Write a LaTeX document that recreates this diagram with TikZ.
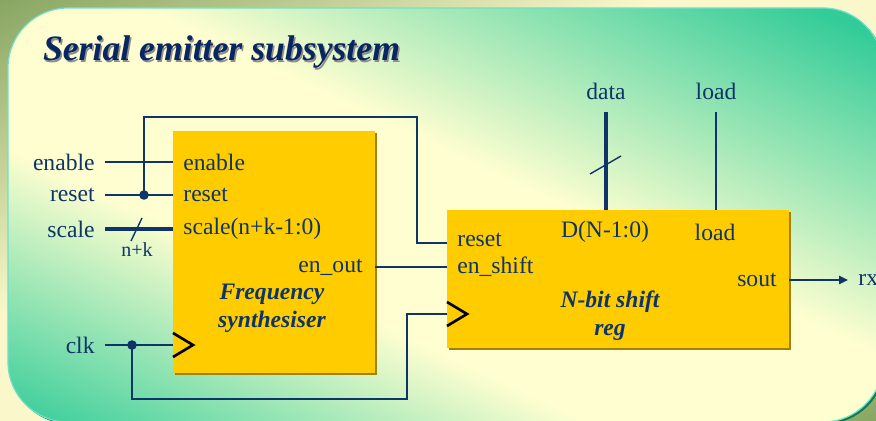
\documentclass[tikz,border=0pt]{standalone}
\usepackage{fontspec}
\setmainfont{Liberation Serif}
\usetikzlibrary{positioning, calc, arrows.meta, shadows}

\definecolor{olive}{RGB}{136,166,98}
\definecolor{paper}{RGB}{250,248,202}
\definecolor{panelyellow}{RGB}{254,254,208}
\definecolor{panelgreen}{RGB}{51,204,153}
\definecolor{panelrim}{RGB}{20,120,85}
\definecolor{paneledge}{RGB}{110,225,200}
\definecolor{gold}{RGB}{255,204,0}
\definecolor{goldedge}{RGB}{160,130,10}
\definecolor{navy}{RGB}{14,52,104}
\definecolor{titlenavy}{RGB}{8,38,98}

% diagonal fills, laid across a rotated box (25bp..75bp spans the box)
\pgfdeclareverticalshading{backdropfill}{100bp}{color(0bp)=(olive); color(25bp)=(olive);
  color(43.75bp)=(paper); color(56.25bp)=(paper); color(75bp)=(olive); color(100bp)=(olive)}
\pgfdeclareverticalshading{panelfill}{100bp}{color(0bp)=(panelgreen); color(25bp)=(panelgreen);
  color(41.5bp)=(panelyellow); color(54bp)=(panelyellow); color(73bp)=(panelgreen); color(100bp)=(panelgreen)}

\newcommand{\sigfont}{\fontsize{11.8pt}{14pt}\selectfont}
\newcommand{\buswidthfont}{\fontsize{10pt}{12pt}\selectfont}

\tikzset{
  wire/.style={draw=navy, line width=1.4pt},
  bus/.style={draw=navy, line width=1.9pt},
  slash/.style={draw=navy, line width=0.7pt},
  clockmark/.style={draw=black, line width=1.3pt, line join=miter},
  block/.style={fill=gold, draw=none, inner sep=0pt,
    drop shadow={shadow xshift=1pt, shadow yshift=-1pt, fill=goldedge, opacity=1}},
  sig/.style={text=navy, font=\sigfont, inner xsep=5pt, inner ysep=0pt},
  port/.style={text=navy, font=\sigfont, inner sep=0pt},
  toplabel/.style={text=navy, font=\sigfont, anchor=south, inner ysep=6pt, inner xsep=0pt},
  blockname/.style={text=navy, font=\sigfont\bfseries\itshape, align=center, inner sep=0pt},
  title/.style={font=\fontsize{17.85pt}{20pt}\selectfont\bfseries\itshape, inner sep=0pt}
}

\begin{document}
\begin{tikzpicture}[x=0.5pt, y=-0.5pt, >=Stealth]
  \useasboundingbox (0,0) rectangle (876,421);
  \clip (0,0) rectangle (876,421);

  % Backdrop: olive corners top left and bottom right
  \begin{scope}[transform canvas={shift={(438,210.5)}, rotate=25.67}]
    \shade[shading=backdropfill] (-540,-379.5) rectangle (540,379.5);
  \end{scope}

  % Slide panel: green corners top right and bottom left
  \fill[panelrim, rounded corners=30pt] (10,10) rectangle (885,424);
  \begin{scope}
    \clip[rounded corners=30pt] (8,8) rectangle (883,422);
    \begin{scope}[transform canvas={shift={(445.5,215)}, rotate=-25.32}]
      \shade[shading=panelfill] (-520,-374) rectangle (520,374);
    \end{scope}
  \end{scope}
  \draw[paneledge, line width=0.6pt, rounded corners=30pt] (8,8) rectangle (883,422);

  % Title with its shadow
  \node[title, text=black!45] at (223,53.5) {Serial emitter subsystem};
  \node[title, text=titlenavy] (title) at (221.5,52) {Serial emitter subsystem};

  % The two blocks
  \node[block, minimum width=101pt, minimum height=121pt] (fs) at (274,252) {};
  \node[block, minimum width=171pt, minimum height=69pt] (sr) at (618,279) {};

  \node[blockname] (fs-name) at (272,308) {Frequency\\synthesiser};
  \node[blockname] (sr-name) at (610,316) {N-bit shift\\reg};

  % Port names inside the frequency synthesiser
  \node[port, anchor=west] (fs-enable) at (183,162) {enable};
  \node[port, anchor=west] (fs-reset) at (183,195) {reset};
  \node[port, anchor=west] (fs-scale) at (183,229) {scale(n+k-1:0)};
  \node[port, anchor=east] (fs-enout) at (363,267) {en\_out};

  % Port names inside the shift register
  \node[port, anchor=west] (sr-reset) at (457,240) {reset};
  \node[port, anchor=west] (sr-enshift) at (457,267) {en\_shift};
  \node[port] (sr-data) at (605,232) {D(N-1:0)};
  \node[port] (sr-load) at (715,232) {load};
  \node[port, anchor=east] (sr-sout) at (777,280) {sout};

  % Port positions on the block edges
  \coordinate (fs-clk) at (173,345);
  \coordinate (fs-out) at (375,267);
  \coordinate (sr-rst) at (447,243);
  \coordinate (sr-sh) at (447,267);
  \coordinate (sr-clk) at (447,314);
  \coordinate (sr-d) at (606,210);
  \coordinate (sr-ld) at (716,210);
  \coordinate (sr-out) at (789,280);

  % Clock inputs
  \draw[clockmark] ($(fs-clk)+(0,-12)$) -- ++(20,12) -- ++(-20,12);
  \draw[clockmark] ($(sr-clk)+(0,-12)$) -- ++(20,12) -- ++(-20,12);

  % External signals
  \node[sig, anchor=east] (in-enable) at (105,162) {enable};
  \node[sig, anchor=east] (in-reset) at (105,195) {reset};
  \node[sig, anchor=east] (in-scale) at (105,229) {scale};
  \node[sig, anchor=east] (in-clk) at (105,345) {clk};
  \node[toplabel] (in-data) at (606,112) {data};
  \node[toplabel] (in-load) at (716,112) {load};
  \node[sig, anchor=west] (out-rx) at (848,280) {rx};

  \draw[wire] (in-enable) -- (in-enable -| fs.west);
  \draw[wire] (in-reset) -- (in-reset -| fs.west);
  \draw[bus] (in-scale) -- (in-scale -| fs.west);
  \draw[wire] (in-clk) -- (in-clk -| fs.west);

  % Bus widths
  \draw[slash] (131,241) -- (142,218);
  \node[text=navy, font=\buswidthfont, inner sep=0pt] (w-scale) at (137,250) {n+k};
  \draw[bus] (in-data) -- (sr-d);
  \draw[slash] (590,174) -- (621,156);
  \draw[wire] (in-load) -- (sr-ld);

  % Shared reset and clock
  \coordinate (j-rst) at (144,195);
  \coordinate (j-clk) at (132,345);
  \draw[wire] (j-rst) |- (417,117) |- (sr-rst);
  \draw[wire] (j-clk) |- (407,399) |- (sr-clk);
  \fill[navy] (j-rst) circle (2.4pt);
  \fill[navy] (j-clk) circle (2.4pt);

  % Enable pulse and serial output
  \draw[wire] (fs-out) -- (sr-sh);
  \draw[wire, -{Triangle[length=4.5pt, width=4pt]}] (sr-out) -- (out-rx);
\end{tikzpicture}
\end{document}
